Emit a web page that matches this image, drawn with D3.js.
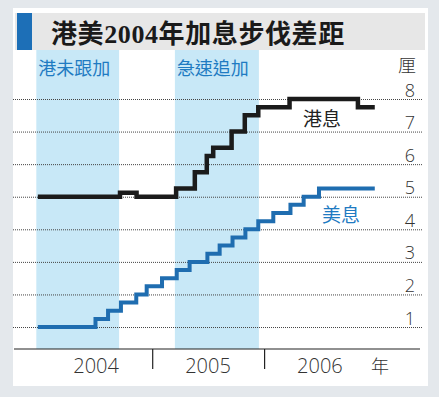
<!DOCTYPE html>
<html>
<head>
<meta charset="utf-8">
<script src="https://cdn.jsdelivr.net/npm/d3@7"></script>
<style>
  html, body { margin: 0; padding: 0; background: #e4e8ec; }
  svg { display: block; }
</style>
</head>
<body>
<div class="chart"></div>
<script>
// --- data ---
const title = '港美2004年加息步伐差距'
const unitLabel = '厘'
const yearLabel = '年'

const hkDates = ['2003-12-25', '2004-09-18', '2004-11-11', '2005-03-20', '2005-05-20', '2005-06-28',
                 '2005-07-19', '2005-09-17', '2005-10-30', '2005-12-13', '2006-03-25', '2006-11-03', '2006-12-28']
const hkRates = [5.0, 5.125, 5.0, 5.25, 5.75, 6.25, 6.5, 7.0, 7.5, 7.75, 8.0, 7.75, 7.75]

const usDates = ['2003-12-25', '2004-06-30', '2004-08-10', '2004-09-21', '2004-11-10', '2004-12-14',
                 '2005-02-02', '2005-03-22', '2005-05-03', '2005-06-30', '2005-08-09', '2005-09-20',
                 '2005-11-01', '2005-12-13', '2006-01-31', '2006-03-28', '2006-05-10', '2006-06-29', '2006-12-28']
const usRates = [1, 1.25, 1.5, 1.75, 2, 2.25, 2.5, 2.75, 3, 3.25, 3.5, 3.75, 4, 4.25, 4.5, 4.75, 5, 5.25, 5.25]

const bandStarts = ['2003-12-20', '2005-03-16']
const bandEnds = ['2004-09-15', '2005-12-15']
const bandLabels = ['港未跟加', '急速追加']

const years = [2004, 2005, 2006]
const yTicks = [1, 2, 3, 4, 5, 6, 7, 8]
const seriesNames = ['港息', '美息']

// --- layout ---
const W = 439, H = 397
const parse = d3.timeParse('%Y-%m-%d')
const plotLeft = 13, plotRight = 422, axisY = 349, bandTop = 50

const svg = d3.select('.chart').append('svg')
    .attr('width', W)
    .attr('height', H)

// panel
svg.append('rect')
    .attr('x', 13).attr('y', 8)
    .attr('width', 415).attr('height', 378)
    .style('fill', '#fff')

// title bar
svg.append('rect')
    .attr('x', 15).attr('y', 13)
    .attr('width', 410).attr('height', 37)
    .style('fill', '#e7e7e7')
svg.append('rect')
    .attr('x', 17).attr('y', 13)
    .attr('width', 15).attr('height', 37)
    .style('fill', '#1d6fb7')
svg.append('text')
    .attr('x', 51).attr('y', 43)
    .style('font-family', '"Liberation Serif", "Noto Sans CJK TC", serif')
    .style('font-weight', 700)
    .style('font-size', '26px')
    .style('letter-spacing', '0.6px')
    .style('fill', '#1a1a1a')
    .text(title)

// scales
const x = d3.scaleTime()
    .domain([new Date(2004, 0, 1), new Date(2007, 0, 1)])
    .range([40, 376])
const y = d3.scaleLinear()
    .domain([0, 8])
    .range([359.6, 99])

// shaded bands
bandStarts.forEach((s, i) => {
    const x0 = x(parse(s)), x1 = x(parse(bandEnds[i]))
    svg.append('rect')
        .attr('x', x0).attr('y', bandTop)
        .attr('width', x1 - x0).attr('height', axisY - bandTop)
        .style('fill', '#c8e8f7')
    svg.append('text')
        .attr('x', x0 + 2).attr('y', 75)
        .style('font-family', '"Noto Sans CJK TC", sans-serif')
        .style('font-size', '18px')
        .style('fill', '#1f7bc2')
        .text(bandLabels[i])
})

// horizontal dotted grid + value labels
const yAxis = d3.axisRight(y)
    .tickValues(yTicks)
    .tickSize(plotRight - plotLeft)
    .tickFormat(d3.format('d'))
const gy = svg.append('g')
    .attr('transform', `translate(${plotLeft},0)`)
    .call(yAxis)
gy.select('.domain').remove()
gy.selectAll('.tick line')
    .style('stroke', '#444')
    .style('stroke-dasharray', '1,1')
gy.selectAll('.tick text')
    .attr('x', 415 - plotLeft)
    .attr('dy', -3)
    .style('text-anchor', 'end')
    .style('font-family', '"Open Sans", sans-serif')
    .style('font-weight', 300)
    .style('font-size', '18px')
    .style('fill', '#333')

svg.append('text')
    .attr('x', 416).attr('y', 72)
    .style('text-anchor', 'end')
    .style('font-family', '"Noto Sans CJK TC", sans-serif')
    .style('font-weight', 300)
    .style('font-size', '18px')
    .style('fill', '#333')
    .text(unitLabel)

// lines
const line = d3.line()
    .x(d => x(d.date))
    .y(d => y(d.rate))
    .curve(d3.curveStepAfter)

const hk = hkDates.map((d, i) => ({date: parse(d), rate: hkRates[i]}))
const us = usDates.map((d, i) => ({date: parse(d), rate: usRates[i]}))

svg.append('path')
    .attr('d', line(us))
    .style('fill', 'none')
    .style('stroke', '#1f6db0')
    .style('stroke-width', 4)
svg.append('path')
    .attr('d', line(hk))
    .style('fill', 'none')
    .style('stroke', '#1b1b1b')
    .style('stroke-width', 4.5)

svg.append('text')
    .attr('x', 303).attr('y', 126)
    .style('font-family', '"Noto Sans CJK TC", sans-serif')
    .style('font-size', '19px')
    .style('fill', '#222')
    .text(seriesNames[0])
svg.append('text')
    .attr('x', 322).attr('y', 222)
    .style('font-family', '"Noto Sans CJK TC", sans-serif')
    .style('font-size', '19px')
    .style('fill', '#1f7bc2')
    .text(seriesNames[1])

// x axis
svg.append('line')
    .attr('x1', 14).attr('x2', 420)
    .attr('y1', axisY).attr('y2', axisY)
    .style('stroke', '#222')
    .style('stroke-width', 1.2)
const xAxis = d3.axisBottom(x)
    .tickValues(years.slice(1).map(yr => new Date(yr, 0, 1)))
    .tickSize(20)
    .tickFormat('')
const gx = svg.append('g')
    .attr('transform', `translate(0,${axisY})`)
    .call(xAxis)
gx.select('.domain').remove()
gx.selectAll('.tick line').style('stroke', '#222').style('stroke-width', 1.2)

svg.selectAll('.year-label')
    .data(years)
    .enter().append('text')
        .attr('class', 'year-label')
        .attr('x', d => x(new Date(d, 6, 2)))
        .attr('y', 373)
        .style('text-anchor', 'middle')
        .style('font-family', '"Open Sans", sans-serif')
        .style('font-weight', 300)
        .style('font-size', '20px')
        .style('fill', '#333')
        .text(d => d)
svg.append('text')
    .attr('x', 371).attr('y', 373)
    .style('font-family', '"Noto Sans CJK TC", sans-serif')
    .style('font-weight', 300)
    .style('font-size', '18px')
    .style('fill', '#333')
    .text(yearLabel)
</script>
</body>
</html>
